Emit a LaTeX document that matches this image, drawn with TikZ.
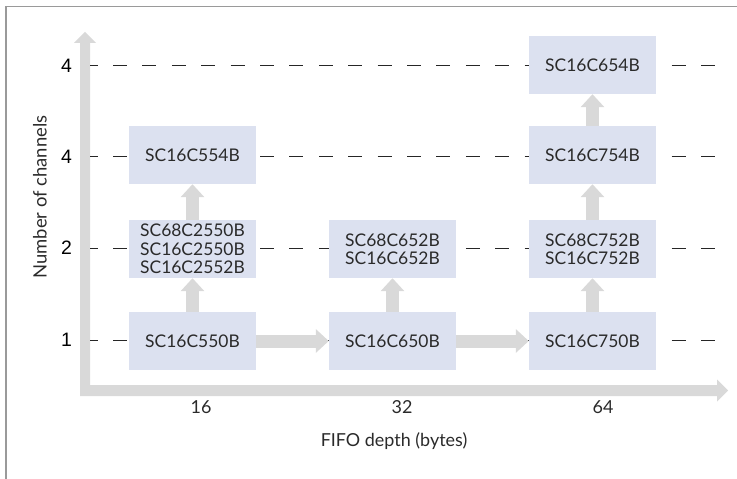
\documentclass[tikz,border=0pt]{standalone}
\usepackage{fontspec}
\setmainfont{Lato}
\newfontfamily\numfont{Liberation Sans}
\usetikzlibrary{arrows.meta}
\definecolor{boxfill}{HTML}{DCE1F0}
\definecolor{axgray}{HTML}{D9D9D9}
\definecolor{framegray}{HTML}{9A9A9A}
\definecolor{txt}{HTML}{2A2A2A}
\begin{document}
\begin{tikzpicture}[x=1bp,y=-1bp,
 chip/.style={fill=boxfill, minimum width=127bp, minimum height=58bp, inner sep=0pt, align=center, text=txt, font=\fontsize{17.5}{18.5}\selectfont},
 fat/.style={draw=axgray, line width=13bp, -{Triangle[length=13bp,width=23bp]}},
 gridline/.style={line width=0.9bp, dash pattern=on 14bp off 15.4bp, dash phase=6.4bp, draw=black!85},
 ylab/.style={font=\numfont\fontsize{19.5}{19.5}\selectfont},
 xlab/.style={font=\fontsize{18}{19}\selectfont, text=txt}]
\useasboundingbox (0,0) rectangle (737,479);
% frame
\draw[framegray, line width=1.3bp] (6,479) -- (6,6.5) -- (737,6.5);
% axes
\fill[axgray] (80,396) -- (80,43) -- (74,43) -- (85,32) -- (96,43) -- (90,43) -- (90,385) -- (717,385) -- (717,379.5) -- (728,390.5) -- (717,401.5) -- (717,396) -- cycle;
% grid lines
\foreach \yy in {65,156,248,340} \draw[gridline] (90,\yy) -- (716,\yy);
% y labels
\node[ylab] (y8) at (66.5,66) {4};
\node[ylab] (y4) at (66.5,157) {4};
\node[ylab] (y2) at (66.5,248) {2};
\node[ylab] (y1) at (66.5,340) {1};
\node[xlab, rotate=90, font=\fontsize{18.5}{19}\selectfont] (ytitle) at (40,197) {Number of channels};
% x labels
\node[xlab] (x16) at (201,407.5) {16};
\node[xlab] (x32) at (402,407.5) {32};
\node[xlab] (x64) at (603,407.5) {64};
\node[xlab] (xtitle) at (394,441) {FIFO depth (bytes)};
% chips
\node[chip] (a1) at (192.5,341) {SC16C550B};
\node[chip] (a2) at (192.5,249) {SC68C2550B\\SC16C2550B\\SC16C2552B};
\node[chip] (a4) at (192.5,155) {SC16C554B};
\node[chip] (b1) at (392.5,341) {SC16C650B};
\node[chip] (b2) at (392.5,249) {SC68C652B\\SC16C652B};
\node[chip] (c1) at (592.5,341) {SC16C750B};
\node[chip] (c2) at (592.5,249) {SC68C752B\\SC16C752B};
\node[chip] (c4) at (592.5,155) {SC16C754B};
\node[chip] (c8) at (592.5,65) {SC16C654B};
% arrows
\draw[fat] (a1.east) -- (b1.west);
\draw[fat] (b1.east) -- (c1.west);
\draw[fat] (a1.north) -- (a2.south);
\draw[fat] (a2.north) -- (a4.south);
\draw[fat] (b1.north) -- (b2.south);
\draw[fat] (c1.north) -- (c2.south);
\draw[fat] (c2.north) -- (c4.south);
\draw[fat] (c4.north) -- (c8.south);
\end{tikzpicture}
\end{document}
